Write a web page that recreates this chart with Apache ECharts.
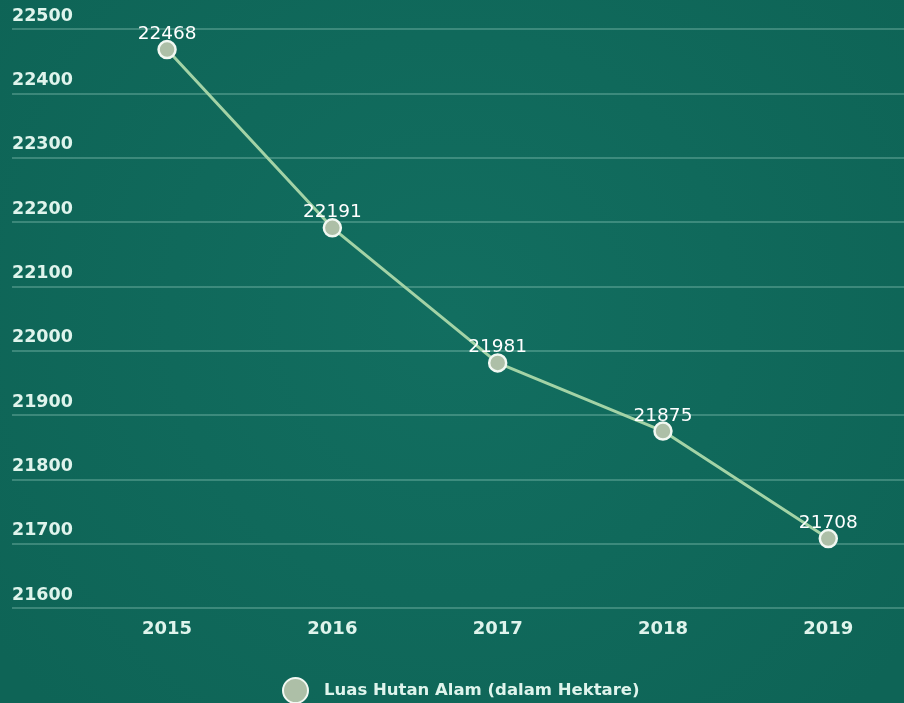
<!DOCTYPE html>
<html>
<head>
<meta charset="utf-8">
<script src="https://cdn.jsdelivr.net/npm/echarts@6/dist/echarts.min.js"></script>
<style>
  html, body { margin: 0; padding: 0; background: #106a5c; }
  #chart { width: 904px; height: 703px; }
</style>
</head>
<body>
<div id="chart"></div>
<script>
// data
var years = [2015, 2016, 2017, 2018, 2019];
var luasHutan = [22468, 22191, 21981, 21875, 21708];
var seriesName = 'Luas Hutan Alam (dalam Hektare)';
var yMin = 21600, yMax = 22500, yStep = 100;

var chart = echarts.init(document.getElementById('chart'));

var txt = '#dff4ec';
var font = '"DejaVu Sans", Roboto, sans-serif';

var points = years.map(function (y, i) { return [y, luasHutan[i]]; });

var options = {
    backgroundColor: {
        type: 'radial', x: 0.5, y: 0.45, r: 0.8,
        colorStops: [
            { offset: 0, color: '#126e60' },
            { offset: 1, color: '#0e6456' }
        ]
    },
    legend: {
        data: [seriesName],
        left: 282,
        top: 677,
        padding: 0,
        icon: 'circle',
        itemWidth: 25,
        itemHeight: 25,
        textStyle: {
            color: txt, fontSize: 16.5, fontWeight: 'bold', fontFamily: font,
            padding: [0, 0, 0, 11]
        }
    },
    grid: { left: 12, right: 0, top: 29, bottom: 95 },
    // x range padded so the years sit where the picture has them
    xAxis: {
        type: 'value',
        min: 2014.062,
        max: 2019.458,
        splitLine: { show: false },
        axisLine: { show: false },
        axisTick: { show: false },
        axisLabel: {
            customValues: years,
            formatter: function (v) { return String(v); },
            color: txt, fontSize: 18, fontWeight: 'bold', fontFamily: font, margin: 12
        }
    },
    yAxis: {
        type: 'value',
        min: yMin, max: yMax, interval: yStep,
        axisLine: { show: false },
        axisTick: { show: false },
        axisLabel: {
            inside: true,
            margin: 0,
            verticalAlign: 'bottom',
            padding: [0, 0, 4, 0],
            formatter: function (v) { return String(v); },
            color: txt, fontSize: 17.5, fontWeight: 'bold', fontFamily: font
        },
        splitLine: { lineStyle: { color: 'rgba(190,235,220,0.35)', width: 1.5 } }
    },
    series: [{
        name: seriesName,
        type: 'line',
        data: points,
        symbol: 'circle',
        symbolSize: 17,
        lineStyle: { color: '#a3d3a6', width: 3 },
        itemStyle: { color: '#adbfa7', borderColor: '#f2f8f2', borderWidth: 2.5 },
        label: {
            show: true,
            position: 'top',
            distance: -4,
            color: '#ffffff',
            fontSize: 18.5,
            fontFamily: font,
            formatter: function (p) { return String(p.value[1]); }
        }
    }]
};

chart.setOption(options);
</script>
</body>
</html>
